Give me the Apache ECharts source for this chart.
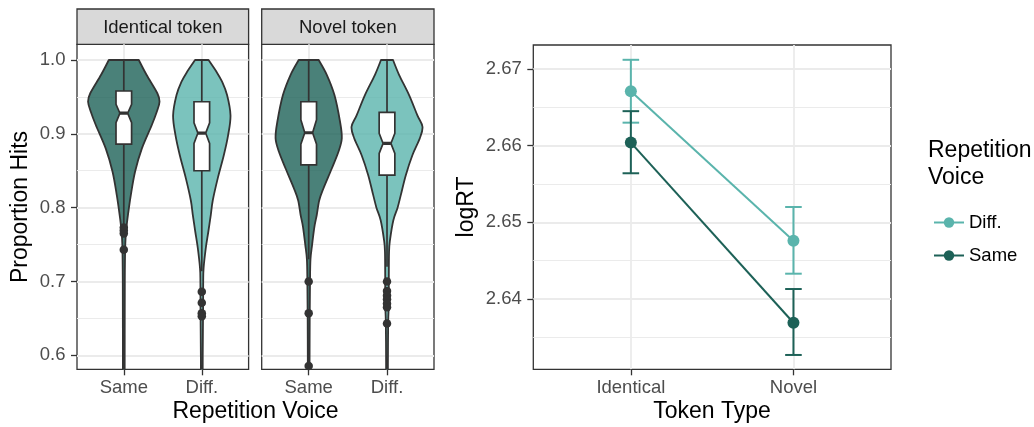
<!DOCTYPE html>
<html>
<head>
<meta charset="utf-8">
<script src="https://cdn.jsdelivr.net/npm/echarts@6/dist/echarts.min.js"></script>
<style>
  html, body { margin: 0; padding: 0; background: #fff; }
  #chart { width: 1034px; height: 427px; }
</style>
</head>
<body>
<div id="chart"></div>
<script>
var repCats = ['Same', 'Diff.'];
var tokenCats = ['Identical', 'Novel'];
var facetNames = ['Identical token', 'Novel token'];
var propTicks = [0.6, 0.7, 0.8, 0.9, 1.0];
var propMinor = [0.65, 0.75, 0.85, 0.95];
var rtTicks = [2.64, 2.65, 2.66, 2.67];
var rtMinor = [2.635, 2.645, 2.655, 2.665];

// violin outlines: [proportion hits, half width in x units]
var violinIdSame = [[1.0, 0.192], [0.98, 0.291], [0.955, 0.43], [0.9435, 0.458], [0.93, 0.423], [0.912, 0.359],
  [0.88, 0.231], [0.849, 0.145], [0.817, 0.09], [0.785, 0.047], [0.77, 0.032], [0.75, 0.019], [0.7, 0.013], [0.55, 0.011]];
var violinIdDiff = [[1.0, 0.086], [0.984, 0.188], [0.9706, 0.26], [0.9525, 0.324], [0.925, 0.368], [0.898, 0.337],
  [0.871, 0.282], [0.84, 0.205], [0.81, 0.141], [0.79, 0.115], [0.767, 0.083], [0.745, 0.051], [0.718, 0.023],
  [0.7, 0.018], [0.67, 0.017], [0.6, 0.012], [0.56, 0.011]];
var violinNovSame = [[1.0, 0.128], [0.98, 0.231], [0.9525, 0.329], [0.916, 0.401], [0.894, 0.423], [0.876, 0.381],
  [0.853, 0.295], [0.826, 0.188], [0.81, 0.135], [0.79, 0.103], [0.774, 0.073], [0.75, 0.044], [0.73, 0.023],
  [0.7, 0.017], [0.65, 0.013], [0.585, 0.011]];
var violinNovDiff = [[1.0, 0.077], [0.98, 0.154], [0.9525, 0.282], [0.925, 0.388], [0.9096, 0.453], [0.894, 0.419],
  [0.871, 0.324], [0.844, 0.24], [0.817, 0.176], [0.8, 0.135], [0.783, 0.081], [0.756, 0.038], [0.74, 0.026],
  [0.7, 0.023], [0.67, 0.023], [0.645, 0.015], [0.6, 0.012], [0.56, 0.011]];

// notched boxes: [lower whisker, q1, notch low, median, notch high, q3, upper whisker]
var boxIdSame = [0.778, 0.886, 0.915, 0.928, 0.94, 0.958, 1.0];
var boxIdDiff = [0.714, 0.85, 0.887, 0.901, 0.915, 0.9435, 1.0];
var boxNovSame = [0.73, 0.858, 0.886, 0.9015, 0.919, 0.9435, 1.0];
var boxNovDiff = [0.72, 0.844, 0.8735, 0.887, 0.9006, 0.929, 1.0];

// outliers
var outIdSame = [0.773, 0.769, 0.765, 0.743];
var outIdDiff = [0.686, 0.671, 0.657, 0.653];
var outNovSame = [0.7, 0.657, 0.5855];
var outNovDiff = [0.7, 0.687, 0.681, 0.676, 0.67, 0.665, 0.643];

// logRT means and error bars by token type
var rtDiff = [2.6671, 2.6476];
var rtDiffLo = [2.663, 2.6433];
var rtDiffHi = [2.6712, 2.652];
var rtSame = [2.6604, 2.6369];
var rtSameLo = [2.6564, 2.6327];
var rtSameHi = [2.6645, 2.6413];

var colDiff = '#5ab4ac';
var colSame = '#1d6157';
var fills = ['rgba(29,97,87,0.8)', 'rgba(90,180,172,0.8)'];
var ink = '#333333';
var font = 'Liberation Sans, Arial, sans-serif';

var violins = [[violinIdSame, violinIdDiff], [violinNovSame, violinNovDiff]];
var boxes = [[boxIdSame, boxIdDiff], [boxNovSame, boxNovDiff]];
var outliers = [[outIdSame, outIdDiff], [outNovSame, outNovDiff]];

var chart = echarts.init(document.getElementById('chart'));

function clipOf(params) {
  var c = params.coordSys;
  return { type: 'rect', shape: { x: c.x, y: c.y, width: c.width, height: c.height } };
}

// smooth curve through pixel points (catmull-rom as cubic beziers)
function curveThrough(pts) {
  var d = '';
  for (var i = 0; i < pts.length - 1; i++) {
    var p0 = pts[Math.max(i - 1, 0)], p1 = pts[i], p2 = pts[i + 1], p3 = pts[Math.min(i + 2, pts.length - 1)];
    var c1x = p1[0] + (p2[0] - p0[0]) / 6, c1y = p1[1] + (p2[1] - p0[1]) / 6;
    var c2x = p2[0] - (p3[0] - p1[0]) / 6, c2y = p2[1] - (p3[1] - p1[1]) / 6;
    d += ' C' + c1x + ',' + c1y + ' ' + c2x + ',' + c2y + ' ' + p2[0] + ',' + p2[1];
  }
  return d;
}

function violinSeries(panel) {
  return {
    type: 'custom', xAxisIndex: panel, yAxisIndex: panel * 2, z: 2,
    data: [[1, 0.9], [2, 0.9]],
    renderItem: function (params, api) {
      var x = api.value(0);
      var dens = violins[panel][params.dataIndex];
      var right = dens.map(function (d) { return api.coord([x + d[1], d[0]]); });
      var left = dens.slice().reverse().map(function (d) { return api.coord([x - d[1], d[0]]); });
      var path = 'M' + right[0][0] + ',' + right[0][1] + curveThrough(right) +
        ' L' + left[0][0] + ',' + left[0][1] + curveThrough(left) + ' Z';
      return {
        type: 'group', clipPath: clipOf(params),
        children: [{
          type: 'path', shape: { pathData: path },
          style: { fill: fills[params.dataIndex], stroke: ink, lineWidth: 1.8, lineJoin: 'round' }
        }]
      };
    }
  };
}

function boxSeries(panel) {
  var hw = 0.1, nw = 0.5;
  return {
    type: 'custom', xAxisIndex: panel, yAxisIndex: panel * 2, z: 3,
    data: [[1, 0.9], [2, 0.9]],
    renderItem: function (params, api) {
      var x = api.value(0);
      var b = boxes[panel][params.dataIndex];
      var p = function (dx, v) { return api.coord([x + dx, v]); };
      var ln = function (a, c, w) {
        return { type: 'line', shape: { x1: a[0], y1: a[1], x2: c[0], y2: c[1] }, style: { stroke: ink, lineWidth: w } };
      };
      return {
        type: 'group', clipPath: clipOf(params),
        children: [
          ln(p(0, b[5]), p(0, b[6]), 1.7),
          ln(p(0, b[1]), p(0, b[0]), 1.7),
          {
            type: 'polygon',
            shape: { points: [p(-hw, b[5]), p(hw, b[5]), p(hw, b[4]), p(hw * nw, b[3]), p(hw, b[2]), p(hw, b[1]),
              p(-hw, b[1]), p(-hw, b[2]), p(-hw * nw, b[3]), p(-hw, b[4])] },
            style: { fill: '#ffffff', stroke: ink, lineWidth: 1.7 }
          },
          ln(p(-hw * nw, b[3]), p(hw * nw, b[3]), 3.2)
        ]
      };
    }
  };
}

function outlierSeries(panel) {
  var pts = [];
  outliers[panel].forEach(function (arr, i) {
    arr.forEach(function (v) { pts.push([i + 1, v]); });
  });
  return {
    type: 'scatter', xAxisIndex: panel, yAxisIndex: panel * 2, z: 4,
    symbol: 'circle', symbolSize: 8.5, itemStyle: { color: ink, opacity: 1 },
    data: pts, clip: true
  };
}

function errorSeries(name, lo, hi, color, z) {
  return {
    type: 'custom', name: name + ' SE', xAxisIndex: 2, yAxisIndex: 4, z: z,
    data: [[1, lo[0], hi[0]], [2, lo[1], hi[1]]],
    encode: { x: 0, y: [1, 2] },
    renderItem: function (params, api) {
      var x = api.value(0), l = api.value(1), h = api.value(2);
      var cw = 0.051;
      var t = api.coord([x, h]), b = api.coord([x, l]);
      var tl = api.coord([x - cw, h]), tr = api.coord([x + cw, h]);
      var bl = api.coord([x - cw, l]), br = api.coord([x + cw, l]);
      var st = { stroke: color, lineWidth: 2 };
      return {
        type: 'group',
        children: [
          { type: 'line', shape: { x1: t[0], y1: t[1], x2: b[0], y2: b[1] }, style: st },
          { type: 'line', shape: { x1: tl[0], y1: tl[1], x2: tr[0], y2: tr[1] }, style: st },
          { type: 'line', shape: { x1: bl[0], y1: bl[1], x2: br[0], y2: br[1] }, style: st }
        ]
      };
    }
  };
}

function lineSeries(name, vals, color, z) {
  return {
    type: 'line', name: name, xAxisIndex: 2, yAxisIndex: 4, z: z,
    data: vals.map(function (v, i) { return [i + 1, v]; }),
    symbol: 'circle', symbolSize: 12, showSymbol: true,
    lineStyle: { color: color, width: 2 },
    itemStyle: { color: color },
    emphasis: { disabled: true }
  };
}

function xAxisOf(grid, labels) {
  return {
    type: 'value', gridIndex: grid, min: 0.4, max: 2.6,
    axisLine: { show: false, onZero: false },
    axisTick: { show: true, customValues: [1, 2], length: 6, lineStyle: { color: ink, width: 1.3 } },
    axisLabel: {
      customValues: [1, 2], margin: 9, color: '#4d4d4d', fontSize: 18.5, fontFamily: font,
      formatter: function (v) { return labels[Math.round(v) - 1]; }
    },
    splitLine: { show: true, lineStyle: { color: '#ebebeb', width: 1.8 } }
  };
}

function yAxisOf(grid, min, max, ticks, digits, showLabels) {
  return {
    type: 'value', gridIndex: grid, min: min, max: max,
    axisLine: { show: false, onZero: false },
    axisTick: { show: showLabels, customValues: ticks, length: 6, lineStyle: { color: ink, width: 1.3 } },
    axisLabel: {
      show: showLabels, customValues: ticks, margin: 11.5, color: '#4d4d4d', fontSize: 18.5, fontFamily: font,
      formatter: function (v) { return v.toFixed(digits); }
    },
    splitLine: { show: true, lineStyle: { color: '#ebebeb', width: 1.8 } }
  };
}

function minorAxisOf(grid, min, max, ticks) {
  return {
    type: 'value', gridIndex: grid, min: min, max: max,
    axisLine: { show: false }, axisLabel: { show: false },
    axisTick: { show: false, customValues: ticks },
    splitLine: { show: true, lineStyle: { color: '#ebebeb', width: 1 } }
  };
}

var gridStyle = { show: true, borderColor: ink, borderWidth: 1.3, backgroundColor: '#ffffff', outerBoundsMode: 'none', containLabel: false };

var graphics = [];
var stripLeft = [77, 261.7], stripWidth = [171.6, 172.3];
facetNames.forEach(function (name, i) {
  graphics.push({
    type: 'rect', shape: { x: stripLeft[i], y: 9, width: stripWidth[i], height: 35.3 },
    style: { fill: '#d9d9d9', stroke: ink, lineWidth: 1.3 }
  });
  graphics.push({
    type: 'text', x: stripLeft[i] + stripWidth[i] / 2, y: 27.5,
    style: { text: name, fill: '#1a1a1a', font: '18.5px ' + font, textAlign: 'center', textVerticalAlign: 'middle' }
  });
});
graphics.push({
  type: 'text', x: 255.5, y: 412,
  style: { text: 'Repetition Voice', fill: '#000', font: '23px ' + font, textAlign: 'center', textVerticalAlign: 'middle' }
});
graphics.push({
  type: 'text', x: 712, y: 412,
  style: { text: 'Token Type', fill: '#000', font: '23px ' + font, textAlign: 'center', textVerticalAlign: 'middle' }
});
graphics.push({
  type: 'text', x: 20.5, y: 207, rotation: Math.PI / 2,
  style: { text: 'Proportion Hits', fill: '#000', font: '23px ' + font, textAlign: 'center', textVerticalAlign: 'middle' }
});
graphics.push({
  type: 'text', x: 467, y: 207, rotation: Math.PI / 2,
  style: { text: 'logRT', fill: '#000', font: '23px ' + font, textAlign: 'center', textVerticalAlign: 'middle' }
});
graphics.push({
  type: 'text', x: 928, y: 150.5,
  style: { text: 'Repetition', fill: '#000', font: '23px ' + font, textAlign: 'left', textVerticalAlign: 'middle' }
});
graphics.push({
  type: 'text', x: 928, y: 177.5,
  style: { text: 'Voice', fill: '#000', font: '23px ' + font, textAlign: 'left', textVerticalAlign: 'middle' }
});

var option = {
  animation: false,
  backgroundColor: '#ffffff',
  textStyle: { fontFamily: font },
  grid: [
    Object.assign({ left: 77, top: 44.3, width: 171.6, height: 325 }, gridStyle),
    Object.assign({ left: 261.7, top: 44.3, width: 172.3, height: 325 }, gridStyle),
    Object.assign({ left: 533.3, top: 45, width: 357.7, height: 324.3 }, gridStyle)
  ],
  xAxis: [xAxisOf(0, repCats), xAxisOf(1, repCats), xAxisOf(2, tokenCats)],
  yAxis: [
    yAxisOf(0, 0.581, 1.0213, propTicks, 1, true), minorAxisOf(0, 0.581, 1.0213, propMinor),
    yAxisOf(1, 0.581, 1.0213, propTicks, 1, false), minorAxisOf(1, 0.581, 1.0213, propMinor),
    yAxisOf(2, 2.63083, 2.67313, rtTicks, 2, true), minorAxisOf(2, 2.63083, 2.67313, rtMinor)
  ],
  legend: {
    data: ['Diff.', 'Same'], orient: 'vertical', left: 928, top: 208,
    itemWidth: 30, itemHeight: 13, itemGap: 14,
    textStyle: { fontSize: 18.5, color: '#000', fontFamily: font }
  },
  graphic: graphics,
  series: [
    violinSeries(0), boxSeries(0), outlierSeries(0),
    violinSeries(1), boxSeries(1), outlierSeries(1),
    errorSeries('Diff.', rtDiffLo, rtDiffHi, colDiff, 5), lineSeries('Diff.', rtDiff, colDiff, 6),
    errorSeries('Same', rtSameLo, rtSameHi, colSame, 7), lineSeries('Same', rtSame, colSame, 8)
  ]
};
chart.setOption(option);
</script>
</body>
</html>
